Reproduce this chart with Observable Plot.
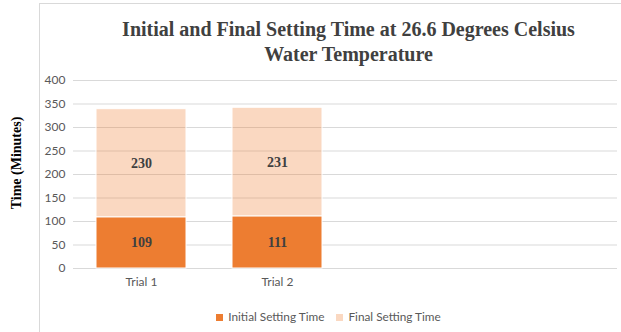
<!DOCTYPE html>
<html>
<head>
<meta charset="utf-8">
<script src="https://cdn.jsdelivr.net/npm/d3@7"></script>
<script src="https://cdn.jsdelivr.net/npm/@observablehq/plot@0.6"></script>
<style>
  html, body { margin: 0; padding: 0; background: #fff; }
  #wrap { position: relative; width: 621px; height: 332px; overflow: hidden; }
  #frame { position: absolute; left: 39px; top: 3px; width: 700px; height: 400px; border: 1.5px solid #d9d9d9; box-sizing: border-box; }
  #title { position: absolute; left: 38px; width: 621px; top: 17px; text-align: center; font-family: "Liberation Serif", serif; font-weight: bold; font-size: 20px; line-height: 25px; color: #404040; }
  #ytitle { position: absolute; left: 17px; top: 163px; transform: translate(-50%, -50%) rotate(-90deg); white-space: nowrap; font-family: "Liberation Serif", serif; font-weight: bold; font-size: 14px; color: #000; }
  #chart { position: absolute; left: 0; top: 0; }
  #legend { position: absolute; left: 0; width: 657px; top: 309px; text-align: center; font-family: Lato, "Open Sans", sans-serif; font-size: 11.8px; color: #595959; }
  .li { display: inline-block; margin: 0 6px; }
  .sw { display: inline-block; width: 7px; height: 7px; margin-right: 5px; vertical-align: 0px; }
</style>
</head>
<body>
<div id="wrap">
  <div id="frame"></div>
  <div id="chart"></div>
  <div id="title">Initial and Final Setting Time at 26.6 Degrees Celsius<br>Water Temperature</div>
  <div id="ytitle">Time (Minutes)</div>
  <div id="legend"></div>
</div>
<script>
const categories = ["Trial 1", "Trial 2", " ", "  "];
const trials = ["Trial 1", "Trial 2"];
const initialTime = [109, 111];
const finalTime = [230, 231];
const seriesNames = ["Initial Setting Time", "Final Setting Time"];
const seriesColors = ["#ED7D31", "#ED7D31"];
const seriesOpacity = [1, 0.3];
const yTicks = [0, 50, 100, 150, 200, 250, 300, 350, 400];

const rows = [];
trials.forEach((t, i) => {
  rows.push({trial: t, series: seriesNames[0], value: initialTime[i]});
  rows.push({trial: t, series: seriesNames[1], value: finalTime[i]});
});

const chart = Plot.plot({
  width: 621,
  height: 332,
  marginLeft: 73,
  marginRight: 4,
  marginTop: 80,
  marginBottom: 64,
  style: {fontFamily: "Lato, 'Open Sans', sans-serif", fontSize: "12px", color: "#595959", background: "transparent"},
  x: {domain: categories, paddingInner: 0.338, paddingOuter: 0.169, label: null, tickSize: 0, tickPadding: 9},
  y: {domain: [0, 400], ticks: yTicks, label: null, tickSize: 0, tickPadding: 8},
  marks: [
    Plot.gridY(yTicks, {stroke: "#d9d9d9", strokeOpacity: 1, strokeWidth: 1}),
    Plot.barY(rows, Plot.stackY({
      x: "trial", y: "value", z: "series", order: seriesNames,
      fill: d => seriesColors[seriesNames.indexOf(d.series)],
      fillOpacity: d => seriesOpacity[seriesNames.indexOf(d.series)],
      stroke: "white", strokeWidth: 1
    })),
    Plot.text(rows, Plot.stackY({
      x: "trial", y: "value", z: "series", order: seriesNames, text: d => String(d.value),
      fontFamily: "'Liberation Serif', serif", fontWeight: "bold", fontSize: 14, fill: "#404040"
    }))
  ]
});
document.getElementById("chart").appendChild(chart);

const legend = document.getElementById("legend");
seriesNames.forEach((s, i) => {
  const item = document.createElement("span");
  item.className = "li";
  const sw = document.createElement("span");
  sw.className = "sw";
  sw.style.background = seriesColors[i];
  sw.style.opacity = seriesOpacity[i];
  item.appendChild(sw);
  item.appendChild(document.createTextNode(s));
  legend.appendChild(item);
});
</script>
</body>
</html>
